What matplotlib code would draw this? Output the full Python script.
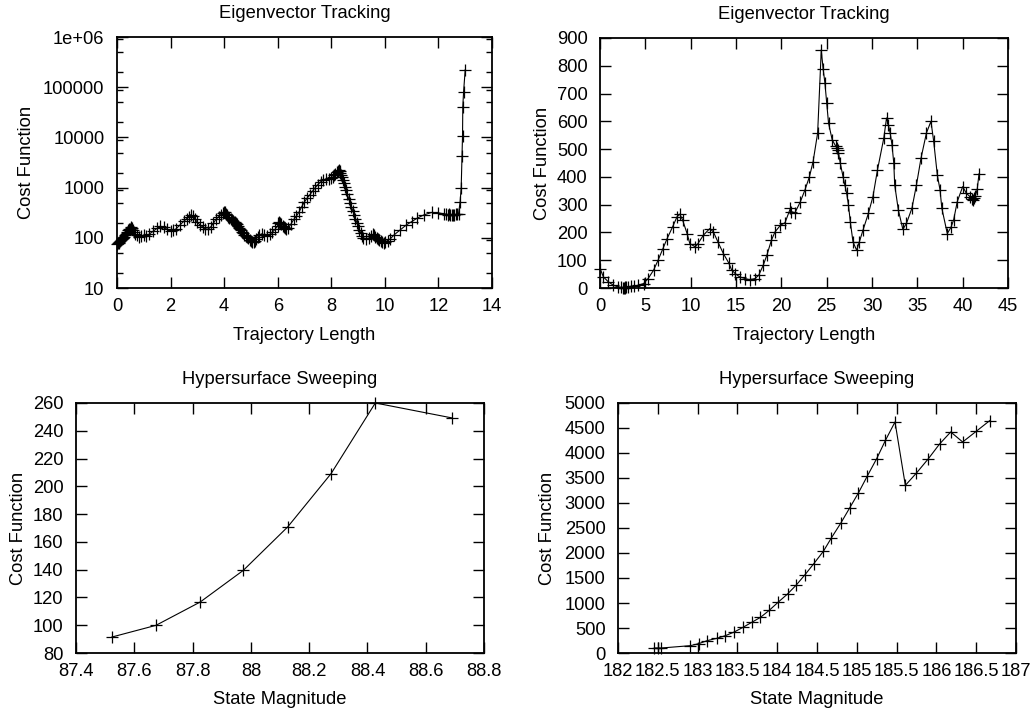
import matplotlib
matplotlib.use("Agg")
import matplotlib.pyplot as plt
from matplotlib.ticker import LogLocator, NullFormatter

plt.rcParams['font.family'] = ['Liberation Sans', 'DejaVu Sans']
plt.rcParams['font.size'] = 13.2

# eigenvector tracking, log scale
traj_x = [0.00, 0.03, 0.06, 0.09, 0.12, 0.15, 0.18, 0.21, 0.24, 0.27, 0.30, 0.33, 0.36, 0.39,
          0.42, 0.45, 0.48, 0.51, 0.54, 0.57, 0.60, 0.64, 0.68, 0.74, 0.81, 0.90, 1.00, 1.10,
          1.20, 1.35, 1.50, 1.62, 1.75, 1.85, 2.00, 2.10, 2.20, 2.35, 2.50, 2.60, 2.70, 2.76,
          2.82, 2.90, 3.00, 3.10, 3.20, 3.30, 3.40, 3.50, 3.60, 3.70, 3.80, 3.88, 3.95, 4.00,
          4.04, 4.08, 4.12, 4.16, 4.20, 4.24, 4.28, 4.32, 4.36, 4.40, 4.44, 4.48, 4.52, 4.56,
          4.60, 4.64, 4.68, 4.72, 4.76, 4.80, 4.85, 4.90, 4.95, 5.00, 5.05, 5.10, 5.15, 5.20,
          5.25, 5.32, 5.40, 5.50, 5.60, 5.70, 5.80, 5.90, 6.00, 6.03, 6.06, 6.10, 6.14, 6.18,
          6.22, 6.26, 6.30, 6.40, 6.50, 6.60, 6.70, 6.80, 6.90, 7.00, 7.10, 7.20, 7.30, 7.40,
          7.50, 7.60, 7.70, 7.80, 7.90, 8.00, 8.05, 8.10, 8.15, 8.20, 8.24, 8.28, 8.31, 8.34,
          8.37, 8.40, 8.44, 8.48, 8.52, 8.56, 8.60, 8.65, 8.70, 8.75, 8.80, 8.85, 8.90, 8.95,
          9.00, 9.05, 9.10, 9.15, 9.20, 9.30, 9.40, 9.50, 9.55, 9.60, 9.65, 9.70, 9.75, 9.80,
          9.85, 9.90, 9.95, 10.00, 10.10, 10.20, 10.35, 10.55, 10.80, 11.00, 11.20, 11.45, 11.75,
          12.00, 12.20, 12.30, 12.35, 12.40, 12.45, 12.50, 12.55, 12.60, 12.65, 12.70, 12.75,
          12.81, 12.85, 12.88, 12.90, 12.91, 12.94, 13.00]
traj_cost = [75, 78, 80, 84, 86, 90, 93, 97, 100, 106, 112, 118, 125, 132,
             140, 147, 152, 158, 162, 155, 145, 132, 120, 112, 105, 108, 112, 110,
             118, 135, 155, 170, 162, 150, 137, 140, 150, 180, 215, 240, 265, 290,
             270, 240, 205, 180, 165, 150, 148, 165, 195, 235, 265, 290, 315, 330,
             320, 300, 280, 262, 245, 232, 222, 215, 210, 205, 195, 185, 172, 160,
             150, 140, 130, 122, 115, 110, 103, 97, 92, 87, 84, 82, 86, 95,
             103, 112, 120, 115, 110, 117, 130, 147, 175, 195, 210, 200, 185, 172,
             162, 155, 150, 158, 190, 232, 270, 330, 420, 520, 620, 720, 850, 1000,
             1150, 1300, 1400, 1470, 1500, 1560, 1600, 1750, 1900, 2050, 2150, 2200, 2100, 1950,
             1800, 1650, 1450, 1250, 1050, 880, 740, 600, 500, 420, 350, 290, 240, 200,
             170, 145, 125, 110, 100, 95, 98, 110, 117, 112, 105, 100, 96, 90,
             85, 82, 80, 82, 88, 95, 115, 140, 180, 210, 245, 285, 320,
             315, 300, 295, 290, 292, 288, 285, 287, 290, 292, 295, 300,
             518, 1000, 4300, 10800, 41000, 82000, 223000]

# eigenvector tracking, linear scale
traj2_x = [0.0, 0.37, 0.92, 1.47, 2.0, 2.3, 2.5, 2.6, 2.7, 2.8, 2.9, 3.1, 3.4, 3.7, 4.2, 4.8,
           5.3, 5.9, 6.4, 6.9, 7.4, 8.0, 8.5, 8.8, 9.1, 9.6, 9.9, 10.5, 10.8, 11.4, 12.1, 12.5,
           13.0, 13.6, 14.2, 14.5, 14.9, 15.4, 16.0, 16.5, 17.1, 17.5, 18.0, 18.4, 18.9, 19.3,
           19.9, 20.4, 21.0, 21.1, 21.5, 22.1, 22.6, 23.1, 23.5, 24.0, 24.4, 24.6, 24.8, 25.0,
           25.2, 25.6, 26.0, 26.1, 26.2, 26.3, 26.5, 26.8, 27.0, 27.2, 27.4, 27.6, 27.9, 28.3,
           28.6, 29.0, 29.6, 30.1, 30.6, 31.3, 31.6, 31.8, 32.0, 32.2, 32.4, 32.5, 32.9, 33.4,
           33.8, 34.4, 34.9, 35.4, 36.0, 36.5, 36.8, 37.2, 37.5, 37.7, 38.3, 38.7, 39.0, 39.4,
           40.0, 40.4, 40.8, 41.0, 41.1, 41.2, 41.4, 41.6, 41.8]
traj2_cost = [70, 40, 22, 10, 4, 2, 1, 0, 1, 2, 2, 4, 6, 7, 10, 16,
              34, 64, 100, 139, 178, 220, 257, 266, 245, 196, 160, 148, 160, 190, 214, 202,
              166, 124, 90, 66, 52, 40, 34, 30, 34, 46, 82, 118, 172, 202,
              226, 235, 287, 275, 271, 311, 353, 401, 455, 558, 857, 790, 739, 666,
              594, 534, 510, 505, 498, 486, 449, 401, 371, 341, 299, 239, 166, 136,
              166, 208, 269, 329, 425, 540, 612, 588, 558, 516, 449, 371, 281, 211,
              233, 287, 371, 467, 558, 600, 528, 407, 353, 287, 196, 218, 245, 311,
              365, 341, 329, 322, 317, 324, 331, 355, 411]

# hypersurface sweeping
state_a = [87.523, 87.674, 87.826, 87.974, 88.126, 88.275, 88.427, 88.691]
cost_a = [91.5, 99.9, 116.7, 139.5, 170.7, 209.1, 260.0, 249.2]

state_b = [182.457, 182.499, 182.545, 182.91, 183.015, 183.12, 183.24, 183.35, 183.46, 183.57,
           183.68, 183.79, 183.90, 184.01, 184.13, 184.24, 184.35, 184.46, 184.58, 184.68,
           184.80, 184.91, 185.02, 185.13, 185.25, 185.36, 185.48, 185.61, 185.75, 185.90,
           186.04, 186.18, 186.33, 186.50, 186.67]
cost_b = [100, 100, 100, 147, 187, 247, 293, 347, 420, 513,
          613, 713, 853, 1013, 1180, 1360, 1567, 1787, 2033, 2300,
          2600, 2900, 3200, 3533, 3887, 4253, 4620, 3353, 3600, 3887,
          4180, 4420, 4220, 4433, 4647]

fig = plt.figure(figsize=(10.36, 7.15), dpi=100)
ax1 = fig.add_axes([0.1129, 0.5972, 0.3620, 0.3510])
ax2 = fig.add_axes([0.5792, 0.5972, 0.3938, 0.3497])
ax3 = fig.add_axes([0.0734, 0.0867, 0.3938, 0.3497])
ax4 = fig.add_axes([0.5965, 0.0867, 0.3842, 0.3497])

style = dict(color='black', lw=0.8, marker='+', ms=8, mew=0.9, clip_on=False)
ax1.plot(traj_x, traj_cost, **style)
ax2.plot(traj2_x, traj2_cost, **style)
ax3.plot(state_a, cost_a, **style)
ax4.plot(state_b, cost_b, **style)

ax1.set_yscale('log')
ax1.set_xlim(0, 14)
ax1.set_ylim(10, 1e6)
ax1.set_xticks(range(0, 15, 2))
ax1.set_yticks([10, 100, 1000, 10000, 100000, 1e6])
ax1.set_yticklabels(['10', '100', '1000', '10000', '100000', '1e+06'])
ax1.yaxis.set_minor_locator(LogLocator(base=10, subs=(2, 5, 9)))
ax1.yaxis.set_minor_formatter(NullFormatter())

ax2.set_xlim(0, 45)
ax2.set_ylim(0, 900)
ax2.set_xticks(range(0, 46, 5))
ax2.set_yticks(range(0, 901, 100))

ax3.set_xlim(87.4, 88.8)
ax3.set_ylim(80, 260)
xt3 = [87.4, 87.6, 87.8, 88.0, 88.2, 88.4, 88.6, 88.8]
ax3.set_xticks(xt3)
ax3.set_xticklabels(['87.4', '87.6', '87.8', '88', '88.2', '88.4', '88.6', '88.8'])
ax3.set_yticks(range(80, 261, 20))

ax4.set_xlim(182, 187)
ax4.set_ylim(0, 5000)
xt4 = [182 + 0.5 * i for i in range(11)]
ax4.set_xticks(xt4)
ax4.set_xticklabels(['%g' % v for v in xt4])
ax4.set_yticks(range(0, 5001, 500))

titles = ['Eigenvector Tracking', 'Eigenvector Tracking',
          'Hypersurface Sweeping', 'Hypersurface Sweeping']
xlabels = ['Trajectory Length', 'Trajectory Length', 'State Magnitude', 'State Magnitude']
ylab_x = [-0.24, -0.142, -0.142, -0.176]
xlab_y = [-0.188, -0.188, -0.184, -0.184]

for ax, t, xl, yx, xy in zip([ax1, ax2, ax3, ax4], titles, xlabels, ylab_x, xlab_y):
    ax.set_title(t, fontsize=13.2, pad=14)
    ax.set_xlabel(xl)
    ax.set_ylabel('Cost Function')
    ax.xaxis.label.set_va('center')
    ax.yaxis.label.set_va('center')
    ax.xaxis.set_label_coords(0.5, xy)
    ax.yaxis.set_label_coords(yx, 0.5)
    ax.tick_params(which='major', direction='in', top=True, right=True,
                   length=8, width=1, pad=7)
    ax.tick_params(axis='y', which='major', pad=9)
    ax.tick_params(which='minor', direction='in', left=True, right=True,
                   length=4, width=1)
    for s in ax.spines.values():
        s.set_linewidth(1.3)

fig.savefig('out.png', dpi=100)
